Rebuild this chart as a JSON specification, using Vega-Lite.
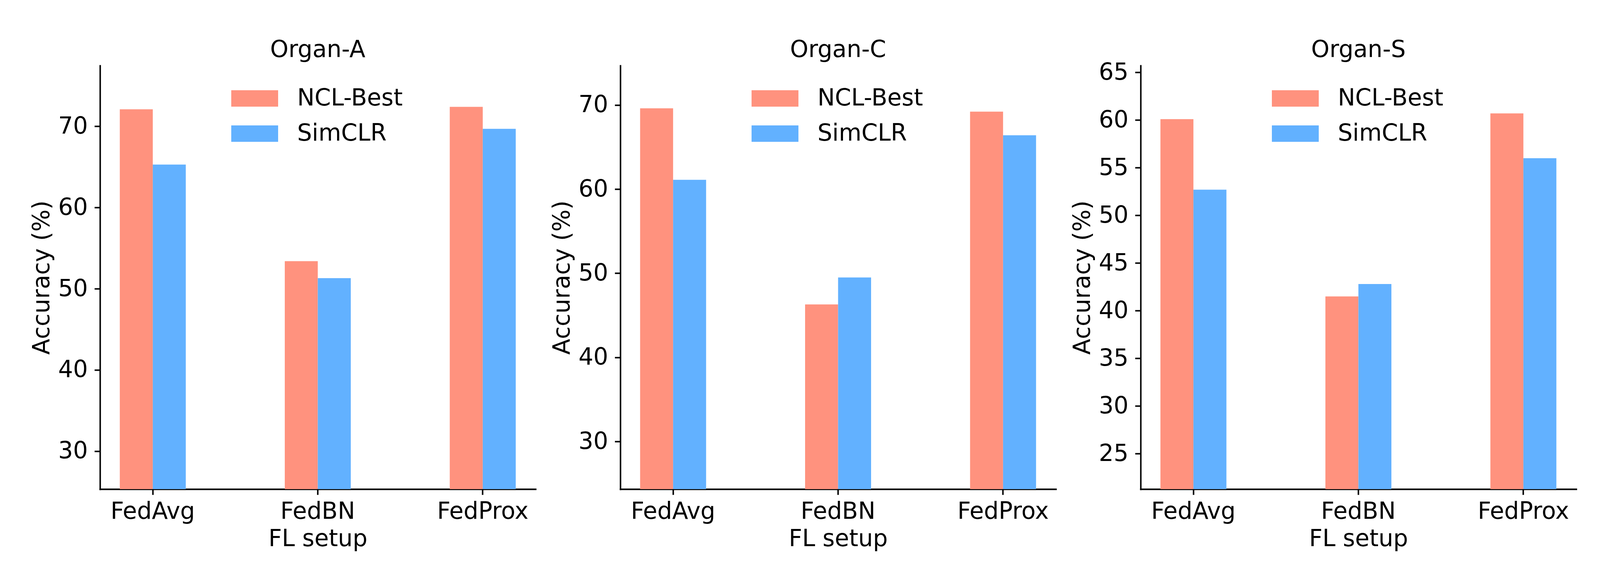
{
  "$schema": "https://vega.github.io/schema/vega-lite/v6.json",
  "background": "white",
  "padding": {"left": 77, "top": 97, "right": 5, "bottom": 5},
  "bounds": "flush",
  "spacing": 217,
  "config": {
    "font": "DejaVu Sans",
    "view": {"stroke": null},
    "axis": {
      "domainColor": "black", "domainWidth": 3.8, "tickColor": "black", "tickWidth": 3.8,
      "tickSize": 14.3, "labelFontSize": 59.7, "titleFontSize": 59.7, "labelColor": "black", "labelLimit": 0,
      "titleColor": "black", "titleFontWeight": "normal", "grid": false, "labelFont": "DejaVu Sans", "titleFont": "DejaVu Sans"
    },
    "axisX": {"labelAngle": 0, "labelPadding": 14.3, "titlePadding": 11.5, "domainCap": "square"},
    "axisY": {"labelPadding": 17.2, "titlePadding": 9.6, "domainCap": "square"},
    "legend": {
      "orient": "none", "legendX": 336, "legendY": 24, "padding": 0, "title": null,
      "symbolType": "M-1,-0.35H1V0.35H-1Z", "symbolSize": 14400, "symbolStrokeWidth": 0,
      "labelFontSize": 59.7, "labelOffset": 48.7, "rowPadding": -36, "labelLimit": 0, "labelFont": "DejaVu Sans", "labelColor": "black"
    },
    "title": {"fontSize": 59.7, "fontWeight": "normal", "font": "DejaVu Sans", "color": "black", "offset": 9, "baseline": "alphabetic"}
  },
  "data": {"values": [
    {"organ": "Organ-A", "setup": "FedAvg", "method": "NCL-Best", "accuracy": 72.1},
    {"organ": "Organ-A", "setup": "FedAvg", "method": "SimCLR", "accuracy": 65.3},
    {"organ": "Organ-A", "setup": "FedBN", "method": "NCL-Best", "accuracy": 53.4},
    {"organ": "Organ-A", "setup": "FedBN", "method": "SimCLR", "accuracy": 51.3},
    {"organ": "Organ-A", "setup": "FedProx", "method": "NCL-Best", "accuracy": 72.4},
    {"organ": "Organ-A", "setup": "FedProx", "method": "SimCLR", "accuracy": 69.7},
    {"organ": "Organ-C", "setup": "FedAvg", "method": "NCL-Best", "accuracy": 69.6},
    {"organ": "Organ-C", "setup": "FedAvg", "method": "SimCLR", "accuracy": 61.1},
    {"organ": "Organ-C", "setup": "FedBN", "method": "NCL-Best", "accuracy": 46.3},
    {"organ": "Organ-C", "setup": "FedBN", "method": "SimCLR", "accuracy": 49.5},
    {"organ": "Organ-C", "setup": "FedProx", "method": "NCL-Best", "accuracy": 69.2},
    {"organ": "Organ-C", "setup": "FedProx", "method": "SimCLR", "accuracy": 66.4},
    {"organ": "Organ-S", "setup": "FedAvg", "method": "NCL-Best", "accuracy": 60.1},
    {"organ": "Organ-S", "setup": "FedAvg", "method": "SimCLR", "accuracy": 52.7},
    {"organ": "Organ-S", "setup": "FedBN", "method": "NCL-Best", "accuracy": 41.5},
    {"organ": "Organ-S", "setup": "FedBN", "method": "SimCLR", "accuracy": 42.8},
    {"organ": "Organ-S", "setup": "FedProx", "method": "NCL-Best", "accuracy": 60.7},
    {"organ": "Organ-S", "setup": "FedProx", "method": "SimCLR", "accuracy": 56.0}
  ]},
  "resolve": {"scale": {"y": "independent"}, "legend": {"color": "independent"}},
  "hconcat": [
    {
      "title": "Organ-A",
      "width": 1115, "height": 1084,
      "transform": [{"filter": "datum.organ === 'Organ-A'"}],
      "mark": {"type": "bar", "clip": true},
      "encoding": {
        "x": {"field": "setup", "type": "nominal", "title": "FL setup", "scale": {"paddingInner": 0.6, "paddingOuter": 0.12}},
        "xOffset": {"field": "method", "type": "nominal", "scale": {"paddingInner": 0, "paddingOuter": 0}},
        "y": {"field": "accuracy", "type": "quantitative", "title": "Accuracy (%)", "scale": {"domain": [25.32, 77.48], "zero": false, "nice": false}, "axis": {"values": [30, 40, 50, 60, 70]}},
        "color": {"field": "method", "type": "nominal", "scale": {"domain": ["NCL-Best", "SimCLR"], "range": ["#FF927E", "#62B1FF"]}}
      }
    },
    {
      "title": "Organ-C",
      "width": 1115, "height": 1084,
      "transform": [{"filter": "datum.organ === 'Organ-C'"}],
      "mark": {"type": "bar", "clip": true},
      "encoding": {
        "x": {"field": "setup", "type": "nominal", "title": "FL setup", "scale": {"paddingInner": 0.6, "paddingOuter": 0.12}},
        "xOffset": {"field": "method", "type": "nominal", "scale": {"paddingInner": 0, "paddingOuter": 0}},
        "y": {"field": "accuracy", "type": "quantitative", "title": "Accuracy (%)", "scale": {"domain": [24.35, 74.67], "zero": false, "nice": false}, "axis": {"values": [30, 40, 50, 60, 70]}},
        "color": {"field": "method", "type": "nominal", "scale": {"domain": ["NCL-Best", "SimCLR"], "range": ["#FF927E", "#62B1FF"]}}
      }
    },
    {
      "title": {"text": "Organ-S", "offset": -3},
      "width": 1115, "height": 1084,
      "transform": [{"filter": "datum.organ === 'Organ-S'"}],
      "mark": {"type": "bar", "clip": true},
      "encoding": {
        "x": {"field": "setup", "type": "nominal", "title": "FL setup", "scale": {"paddingInner": 0.6, "paddingOuter": 0.12}},
        "xOffset": {"field": "method", "type": "nominal", "scale": {"paddingInner": 0, "paddingOuter": 0}},
        "y": {"field": "accuracy", "type": "quantitative", "title": "Accuracy (%)", "scale": {"domain": [21.29, 65.71], "zero": false, "nice": false}, "axis": {"values": [25, 30, 35, 40, 45, 50, 55, 60, 65]}},
        "color": {"field": "method", "type": "nominal", "scale": {"domain": ["NCL-Best", "SimCLR"], "range": ["#FF927E", "#62B1FF"]}}
      }
    }
  ]
}
